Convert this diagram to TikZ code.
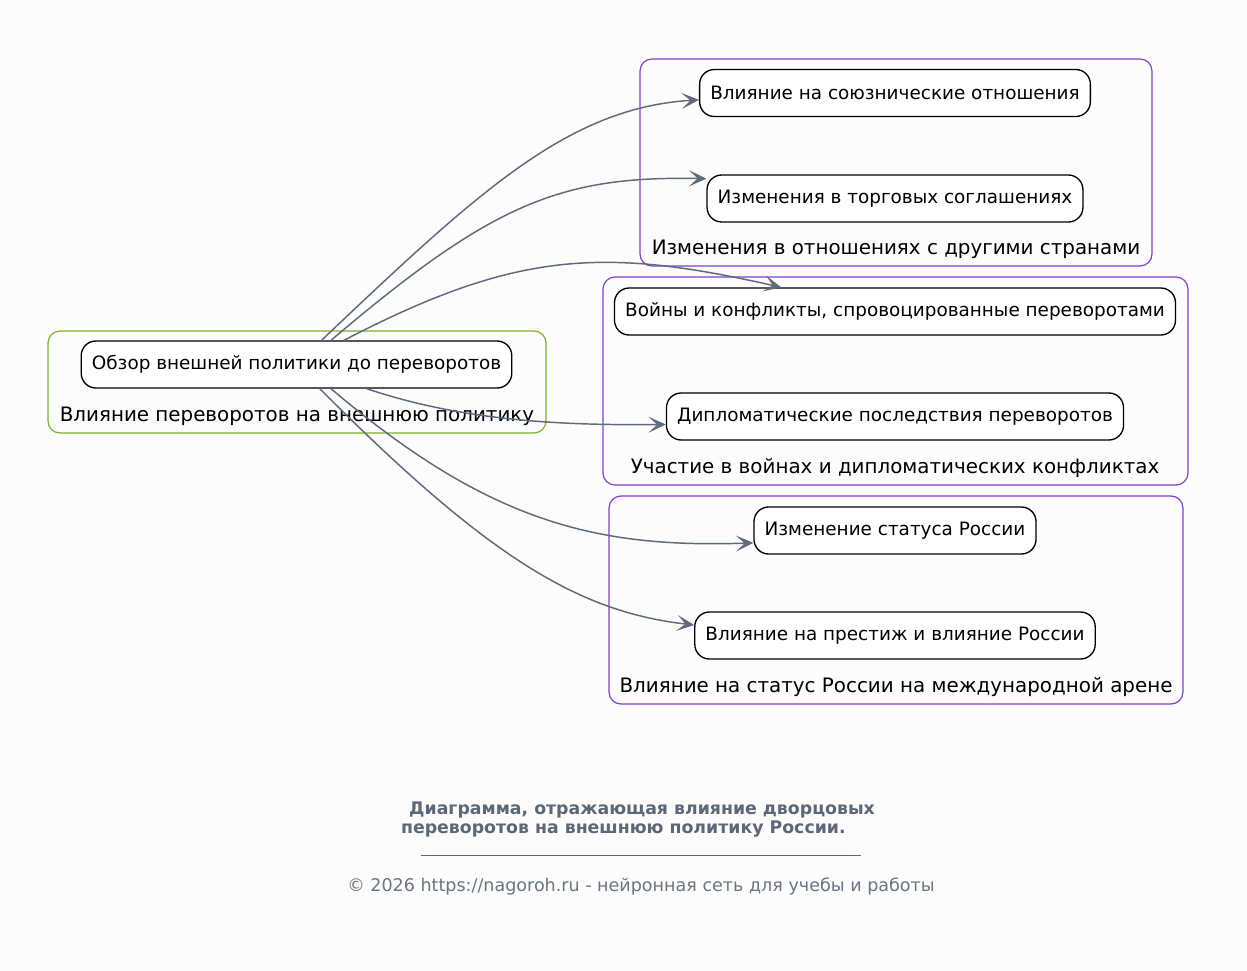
\documentclass[tikz,border=0pt]{standalone}
\usepackage{fontspec}
\setmainfont{DejaVu Sans}
\usetikzlibrary{arrows.meta}

\definecolor{bgcol}{HTML}{FCFCFC}
\definecolor{edgecol}{HTML}{5F6B7A}
\definecolor{greencl}{HTML}{80B028}
\definecolor{purplecl}{HTML}{8040D0}
\definecolor{footcol}{HTML}{5A6878}
\definecolor{copycol}{HTML}{6A7684}

\begin{document}
\begin{tikzpicture}[x=0.75pt, y=-0.75pt,
    topic/.style={draw=black, line width=1pt, rounded corners=11pt, fill=white,
                  minimum height=35.25pt, inner xsep=8pt,
                  font=\fontsize{13.8}{16}\selectfont},
    cluster/.style={line width=0.9pt, rounded corners=9pt},
    clabel/.style={font=\fontsize{14.9}{18}\selectfont},
    link/.style={draw=edgecol, line width=1.1pt,
                 -{Stealth[length=13pt, width=12pt, inset=6.5pt]}}]
  \fill[bgcol] (0, 0) rectangle (1247, 971);

  % clusters
  \draw[cluster, greencl] (48, 331) rectangle (546, 433);
  \draw[cluster, purplecl] (640, 59) rectangle (1152, 266);
  \draw[cluster, purplecl] (603, 277) rectangle (1188, 485);
  \draw[cluster, purplecl] (609, 496) rectangle (1183, 704);

  \node[clabel] (lab0) at (297, 416) {Влияние переворотов на внешнюю политику};
  \node[clabel] (lab1) at (896, 249) {Изменения в отношениях с другими странами};
  \node[clabel] (lab2) at (895, 468) {Участие в войнах и дипломатических конфликтах};
  \node[clabel] (lab3) at (896, 687) {Влияние на статус России на международной арене};

  % topics
  \node[topic] (obzor) at (296.5, 364.5) {Обзор внешней политики до переворотов};
  \node[topic] (soyuz) at (895, 93) {Влияние на союзнические отношения};
  \node[topic] (torg) at (895, 198.5) {Изменения в торговых соглашениях};
  \node[topic] (voiny) at (895, 311.5) {Войны и конфликты, спровоцированные переворотами};
  \node[topic] (diplo) at (895, 416.5) {Дипломатические последствия переворотов};
  \node[topic] (status) at (895, 530.5) {Изменение статуса России};
  \node[topic] (prestizh) at (895, 635.5) {Влияние на престиж и влияние России};

  % links
  \draw[link] (obzor.44) .. controls +(159, -151) and +(-130, 8) .. (soyuz.182.3);
  \draw[link] (obzor.35) .. controls +(160, -136) and +(-147, -3) .. (torg.174.7);
  \draw[link] (obzor.27) .. controls +(173, -90) and +(-177, -40) .. (voiny.168.7);
  \draw[link] (obzor.-19) .. controls +(95, 32) and +(-106, 1) .. (diplo.182.1);
  \draw[link] (obzor.-35.3) .. controls +(160, 136) and +(-154, 5) .. (status.185.9);
  \draw[link] (obzor.-46) .. controls +(170, 171) and +(-114, -13) .. (prestizh.177.9);

  % footer
  \node[footcol, font=\fontsize{13}{14.3}\bfseries, align=center] (title) at (642, 819.5)
    {Диаграмма, отражающая влияние дворцовых\\переворотов на внешнюю политику России.\hspace*{28pt}};
  \node[footcol, inner sep=0pt] (rule) at (641, 855) {\rule{330pt}{0.6pt}};
  \node[copycol, font=\fontsize{13.15}{15}\selectfont] (copy) at (641, 887)
    {© 2026 https://nagoroh.ru - нейронная сеть для учебы и работы};
\end{tikzpicture}
\end{document}
